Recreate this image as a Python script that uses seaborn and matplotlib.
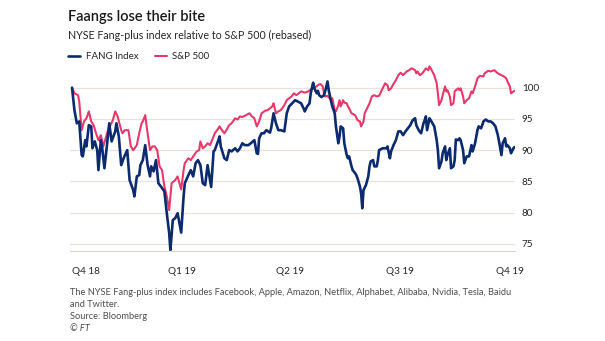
import numpy as np
import pandas as pd
import matplotlib
matplotlib.use("Agg")
import matplotlib.pyplot as plt
import matplotlib.dates as mdates
import seaborn as sns

# ---- data (days since 2018-10-01, rebased index values) ----
fang_day = [0, 2, 4, 6, 8, 9, 11, 12, 14, 16, 17, 19, 21, 22, 24, 25, 27, 29, 31, 33, 36, 37, 39, 41, 43, 46, 48, 51, 52, 54,
            56, 57, 59, 61, 63, 65, 66, 68, 70, 72, 74, 77, 79, 81, 82, 84, 86, 88, 91, 93, 94, 97, 99, 101, 103, 105, 107, 109, 111, 113,
            115, 116, 118, 119, 122, 123, 124, 127, 129, 131, 133, 136, 138, 140, 142, 144, 147, 149, 152, 154, 155, 156, 158, 160, 162, 165, 166, 168, 170, 172,
            174, 177, 179, 181, 184, 186, 188, 191, 193, 194, 196, 198, 199, 201, 202, 204, 205, 206, 208, 210, 211, 213, 214, 216, 217, 219, 220, 222, 223, 224,
            226, 227, 229, 230, 231, 233, 234, 236, 237, 238, 240, 241, 242, 243, 245, 247, 248, 249, 251, 252, 254, 255, 256, 259, 262, 263, 265, 266, 268, 270,
            272, 274, 276, 278, 280, 282, 284, 286, 287, 289, 291, 293, 294, 295, 296, 298, 299, 302, 304, 305, 306, 308, 309, 311, 312, 313, 315, 316, 318, 319,
            320, 322, 323, 324, 326, 327, 329, 331, 333, 334, 336, 338, 339, 341, 342, 343, 345, 347, 349, 351, 353, 355, 356, 358, 359, 361, 362, 363, 365, 366,
            368, 369]
fang_val = [100.0, 96.4, 94.3, 94.6, 89.2, 89.0, 91.6, 90.6, 94.0, 93.8, 90.3, 91.4, 90.0, 86.8, 91.6, 90.6, 87.1, 90.6, 94.3, 91.4, 93.0, 94.3, 92.2, 87.6, 88.7, 90.0, 85.2, 83.6, 82.6, 85.8,
            86.0, 87.6, 88.4, 90.8, 87.6, 85.8, 87.4, 86.6, 88.4, 84.7, 84.2, 83.4, 79.9, 76.7, 74.0, 78.8, 79.1, 79.9, 76.8, 82.6, 84.7, 86.0, 86.8, 85.8, 87.9, 88.4, 87.6, 84.7, 84.4, 87.6,
            85.2, 84.1, 89.8, 90.0, 91.6, 92.2, 90.6, 88.7, 88.4, 90.0, 89.8, 90.3, 89.8, 90.3, 91.1, 90.8, 90.8, 91.1, 91.6, 89.5, 89.4, 91.9, 92.7, 92.7, 93.2, 92.8, 93.5, 95.9, 94.3, 93.2,
            93.2, 93.0, 95.9, 97.0, 97.6, 98.0, 97.8, 97.5, 96.7, 96.2, 97.0, 97.5, 99.1, 100.8, 99.9, 99.1, 99.5, 98.8, 98.5, 98.8, 99.4, 101.0, 99.6, 97.8, 97.0, 95.9, 93.8, 91.1, 92.2, 93.8,
            93.5, 91.1, 89.2, 88.7, 89.0, 87.4, 86.8, 86.3, 86.0, 85.5, 84.2, 83.1, 80.7, 83.6, 84.4, 85.8, 87.4, 88.2, 88.4, 87.4, 87.4, 88.4, 90.0, 90.3, 90.3, 90.6, 88.7, 89.8, 90.8, 91.6,
            93.0, 93.0, 92.4, 93.0, 93.5, 94.0, 94.8, 95.1, 94.0, 93.2, 92.7, 94.3, 94.8, 95.4, 93.2, 95.1, 94.8, 93.8, 91.6, 90.0, 87.1, 88.2, 89.5, 90.6, 88.4, 89.2, 90.3, 87.1, 87.4, 88.4,
            91.7, 91.6, 91.9, 91.6, 90.0, 87.9, 89.0, 89.0, 90.8, 89.8, 91.1, 93.2, 93.8, 93.5, 94.0, 94.6, 94.9, 94.6, 94.6, 94.3, 93.8, 92.4, 91.4, 89.2, 91.1, 91.9, 90.6, 90.8, 90.3, 89.5,
            90.3, 90.5]

sp_day = [0, 2, 5, 6, 8, 10, 12, 14, 16, 18, 20, 22, 24, 26, 28, 30, 32, 34, 36, 38, 41, 42, 44, 47, 49, 51, 54, 56, 58, 59,
          61, 63, 65, 67, 69, 71, 73, 75, 77, 79, 81, 83, 86, 88, 91, 93, 94, 97, 99, 101, 104, 106, 107, 109, 111, 113, 115, 117, 119, 121,
          123, 125, 127, 129, 131, 133, 136, 138, 140, 142, 145, 148, 150, 152, 154, 156, 158, 161, 163, 165, 167, 168, 170, 172, 174, 177, 179, 181, 183, 185,
          187, 189, 191, 194, 197, 199, 201, 203, 205, 207, 209, 210, 211, 213, 216, 217, 219, 220, 222, 223, 224, 226, 227, 229, 230, 231, 233, 236, 238, 240,
          241, 243, 244, 246, 248, 250, 252, 254, 256, 257, 259, 261, 263, 264, 266, 268, 270, 272, 274, 276, 279, 281, 283, 286, 287, 288, 290, 292, 294, 295,
          297, 298, 299, 302, 304, 305, 306, 308, 309, 311, 312, 313, 315, 316, 318, 319, 320, 322, 323, 324, 326, 327, 329, 331, 333, 334, 336, 338, 340, 343,
          344, 347, 349, 352, 355, 358, 360, 362, 363, 365, 366, 368, 369]
sp_val = [100.0, 99.1, 98.8, 97.8, 93.2, 94.6, 95.1, 96.2, 94.6, 94.0, 92.7, 91.6, 92.4, 90.6, 91.9, 93.2, 94.0, 94.8, 96.2, 95.4, 93.2, 92.7, 93.2, 93.2, 90.6, 90.0, 90.8, 92.7, 94.3, 94.6,
          95.6, 92.7, 90.0, 90.6, 90.6, 90.0, 87.4, 86.8, 84.2, 82.6, 80.4, 84.7, 85.2, 85.8, 83.7, 86.8, 87.9, 88.7, 88.4, 89.0, 89.8, 90.0, 91.4, 90.3, 90.6, 91.1, 90.8, 91.7, 92.7, 93.2,
          93.8, 93.2, 92.7, 93.3, 94.0, 94.3, 95.1, 94.9, 95.4, 95.3, 95.6, 95.9, 95.4, 95.1, 93.8, 94.6, 95.9, 96.3, 96.4, 96.7, 97.0, 97.5, 95.9, 96.2, 96.4, 97.2, 98.0, 98.3, 98.6, 99.1,
          98.8, 99.1, 99.4, 99.2, 99.4, 99.7, 99.9, 100.1, 100.4, 100.6, 100.2, 99.1, 98.6, 98.7, 98.0, 98.3, 96.4, 96.2, 97.2, 98.0, 97.0, 98.0, 97.6, 97.5, 97.0, 96.7, 95.9, 95.6, 94.8, 94.6,
          93.8, 94.6, 95.9, 96.7, 97.5, 98.6, 98.8, 98.6, 98.7, 99.1, 99.9, 100.7, 100.4, 99.6, 99.9, 100.6, 101.2, 102.0, 102.4, 102.0, 102.6, 102.8, 103.1, 102.8, 102.3, 102.6, 102.0, 102.3, 102.8, 103.1,
          102.8, 103.4, 103.1, 102.0, 100.7, 99.1, 97.2, 98.0, 98.8, 100.2, 99.4, 99.6, 98.6, 97.2, 97.5, 99.4, 99.6, 99.9, 99.6, 99.9, 98.6, 97.5, 98.0, 98.3, 99.4, 99.1, 100.2, 101.5, 101.9, 101.8,
          102.3, 102.7, 102.6, 102.8, 102.3, 102.0, 101.8, 101.5, 101.0, 100.2, 99.1, 99.4, 99.5]

series_names = ["FANG Index", "S&P 500"]
y_ticks = [75, 80, 85, 90, 95, 100]
quarter_dates = ["2018-10-01", "2019-01-01", "2019-04-01", "2019-07-01", "2019-10-01"]
quarter_labels = ["Q4 18", "Q1 19", "Q2 19", "Q3 19", "Q4 19"]

title = "Faangs lose their bite"
subtitle = "NYSE Fang-plus index relative to S&P 500 (rebased)"
footnote_lines = ["The NYSE Fang-plus index includes Facebook, Apple, Amazon, Netflix, Alphabet, Alibaba, Nvidia, Tesla, Baidu",
                  "and Twitter.",
                  "Source: Bloomberg"]
credit = "© FT"

# ---- build frame ----
start = pd.Timestamp("2018-10-01")
df = pd.concat([
    pd.DataFrame({"date": start + pd.to_timedelta(fang_day, unit="D"), "value": fang_val, "series": series_names[0]}),
    pd.DataFrame({"date": start + pd.to_timedelta(sp_day, unit="D"), "value": sp_val, "series": series_names[1]}),
])

sns.set_theme(style="white")
plt.rcParams["font.family"] = ["Lato", "DejaVu Sans"]

W, H = 605, 341
fig = plt.figure(figsize=(W / 100, H / 100), dpi=100)
fig.patch.set_facecolor("white")
ax = fig.add_axes([70 / W, 1 - 250.7 / H, (515 - 70) / W, (250.7 - 62.7) / H])

navy = "#0c2a6e"
pink = "#e8386b"
grid_c = "#e8e3de"

sns.lineplot(data=df[df.series == series_names[1]], x="date", y="value", color=pink, lw=1.5, ax=ax,
             label=series_names[1], legend=False)
sns.lineplot(data=df[df.series == series_names[0]], x="date", y="value", color=navy, lw=1.9, ax=ax,
             label=series_names[0], legend=False)

x0 = mdates.date2num(start)
ax.set_xlim(x0 - 1.7, x0 + 369.3)
ax.set_ylim(73.9, 104)

# grid
for v in y_ticks:
    ax.axhline(v, color=grid_c, lw=0.9, zorder=0)

ax.yaxis.tick_right()
ax.set_yticks(y_ticks)
ax.set_yticklabels([str(v) for v in y_ticks])
ax.tick_params(axis="y", length=0, pad=5, labelsize=7.2, labelcolor="#262626")
for lab in ax.get_yticklabels():
    lab.set_horizontalalignment("left")

qnums = [mdates.date2num(pd.Timestamp(d)) for d in quarter_dates]
ax.set_xticks(qnums)
ax.set_xticklabels(quarter_labels)
ax.xaxis.set_minor_locator(mdates.MonthLocator())
ax.tick_params(axis="x", which="both", length=5, width=0.8, color="#cfc9c4", direction="out",
               pad=7, labelsize=7.2, labelcolor="#262626")
xl = ax.get_xticklabels()
xl[0].set_horizontalalignment("left")

ax.set_xlabel("")
ax.set_ylabel("")
for s in ["top", "left", "right"]:
    ax.spines[s].set_visible(False)
ax.spines["bottom"].set_color("#dcd6d1")
ax.spines["bottom"].set_linewidth(0.8)
ax.grid(False)

# titles
fig.text(68 / W, 1 - 17 / H, title, fontsize=10.5, fontweight="semibold", color="#1a1a1a", va="center", ha="left")
fig.text(68 / W, 1 - 35 / H, subtitle, fontsize=7.7, color="#262626", va="center", ha="left")

# legend
hmap = {h.get_label(): h for h in ax.get_lines()}
leg = ax.legend([hmap[series_names[0]], hmap[series_names[1]]], series_names, loc="center left",
                bbox_to_anchor=(68 / W, 1 - 56.7 / H), bbox_transform=fig.transFigure, ncol=2, frameon=False,
                fontsize=7.0, handlelength=1.25, handletextpad=0.55, columnspacing=1.7, borderpad=0, borderaxespad=0)
for t in leg.get_texts():
    t.set_color("#262626")

# footnotes
foot_y = [292.3, 304.3, 316.5]
for line, yy in zip(footnote_lines, foot_y):
    fig.text(70 / W, 1 - yy / H, line, fontsize=6.65, color="#4d4d4d", va="center", ha="left")
fig.text(70 / W, 1 - 328.5 / H, credit, fontsize=6.65, color="#4d4d4d", va="center", ha="left", style="italic")

fig.savefig("out.png", dpi=100, facecolor="white")
